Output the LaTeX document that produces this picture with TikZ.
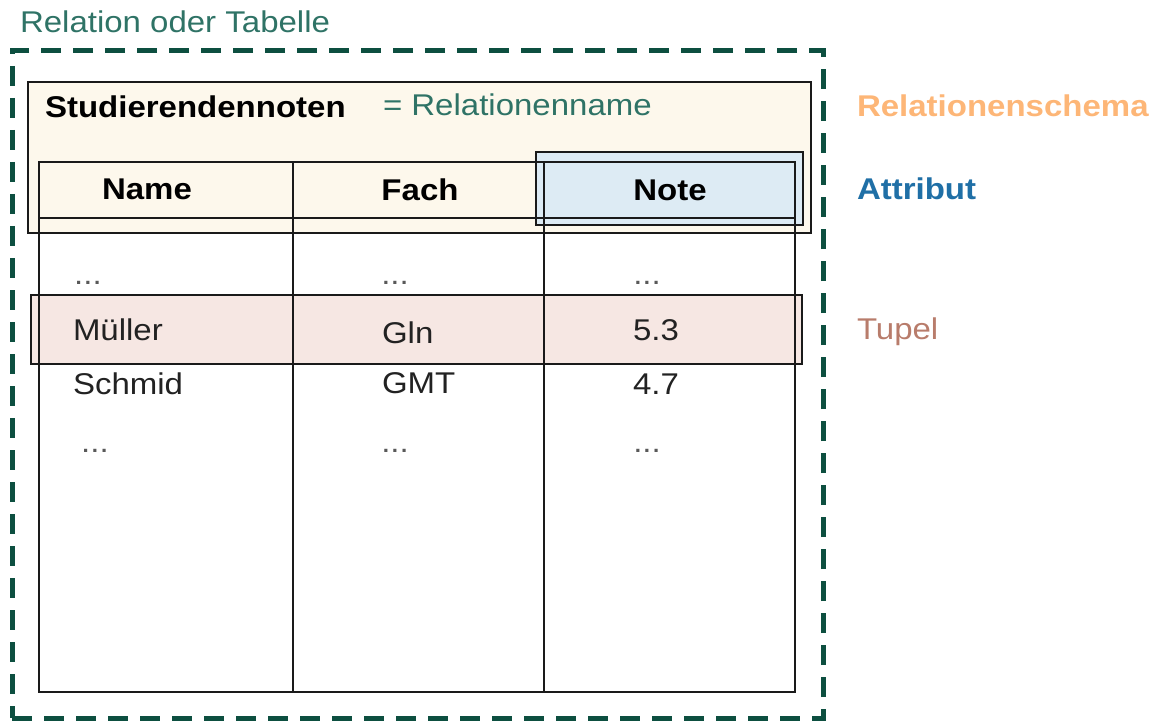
\documentclass[tikz,border=0pt]{standalone}
\usepackage{fontspec}
\setmainfont{Liberation Sans}[FakeStretch=1.1]
\definecolor{dgreen}{HTML}{0D4F40}
\definecolor{tgreen}{HTML}{2F7366}
\definecolor{cream}{HTML}{FDF8EC}
\definecolor{lblue}{HTML}{DDEBF4}
\definecolor{lpink}{HTML}{F6E7E3}
\definecolor{orangetxt}{HTML}{FDB677}
\definecolor{bluetxt}{HTML}{1F6FA6}
\definecolor{browntxt}{HTML}{B87C6B}
\definecolor{linec}{HTML}{1A1A1A}
\definecolor{datac}{HTML}{222222}
\begin{document}
\begin{tikzpicture}[x=1pt,y=-1pt,
  every node/.style={font=\fontsize{30}{36}\selectfont, inner sep=0pt, outer sep=0pt},
  area/.style={rectangle, anchor=north west},
  frame/.style={draw=linec, line width=1.8pt},
  txt/.style={anchor=base west},
  ctxt/.style={anchor=base},
  head/.style={anchor=base, font=\fontsize{30}{36}\selectfont\bfseries, text=black},
  dat/.style={text=datac},
  dots/.style={anchor=base, text=black!65}
]
\useasboundingbox (0,0) rectangle (1159,722);

% outer dashed relation box
\node[area, draw=dgreen, line width=5pt, dash pattern=on 20pt off 12pt,
      minimum width=811pt, minimum height=667pt] (rel) at (12,51) {};
\node[txt, text=tgreen] (reltitle) at (20,33) {Relation oder Tabelle};

% fills
\node[area, fill=cream, minimum width=783pt, minimum height=151pt] (schema) at (28,82) {};
\node[area, fill=lblue, minimum width=267pt, minimum height=73pt] (attr) at (536,152) {};
\node[area, fill=lpink, minimum width=771pt, minimum height=69pt] (tupel) at (31,295) {};

% borders of highlight boxes
\node[area, frame, minimum width=783pt, minimum height=151pt] (schemab) at (28,82) {};
\node[area, frame, minimum width=267pt, minimum height=73pt] (attrb) at (536,152) {};
\node[area, frame, minimum width=771pt, minimum height=69pt] (tupelb) at (31,295) {};

% table
\node[area, frame, minimum width=756pt, minimum height=530pt] (table) at (39,162) {};
\coordinate (h1) at (39,218);
\coordinate (h2) at (795,218);
\coordinate (c1t) at (293,162);
\coordinate (c1b) at (293,692);
\coordinate (c2t) at (544,162);
\coordinate (c2b) at (544,692);
\draw[frame] (h1) -- (h2);
\draw[frame] (c1t) -- (c1b);
\draw[frame] (c2t) -- (c2b);

% schema texts
\node[txt, font=\fontsize{30}{36}\selectfont\bfseries, text=black] (relname) at (45,118) {Studierendennoten};
\node[txt, text=tgreen] (relnamelbl) at (383,116) {= Relationenname};

% header
\node[head] (hname) at (147,200) {Name};
\node[head] (hfach) at (420,201) {Fach};
\node[head] (hnote) at (670,201) {Note};

% rows
\node[dots] (d11) at (88,284) {...};
\node[dots] (d12) at (395,284) {...};
\node[dots] (d13) at (647,284) {...};

\node[txt, dat] (r1a) at (73,340) {Müller};
\node[txt, dat] (r1b) at (382,343) {Gln};
\node[ctxt, dat] (r1c) at (656,340) {5.3};

\node[txt, dat] (r2a) at (73,394) {Schmid};
\node[txt, dat] (r2b) at (382,393) {GMT};
\node[ctxt, dat] (r2c) at (656,394) {4.7};

\node[dots] (d31) at (95,452) {...};
\node[dots] (d32) at (395,452) {...};
\node[dots] (d33) at (647,452) {...};

% legend labels
\node[txt, font=\fontsize{30}{36}\selectfont\bfseries, text=orangetxt] (lschema) at (857,117) {Relationenschema};
\node[txt, font=\fontsize{30}{36}\selectfont\bfseries, text=bluetxt] (lattr) at (857,200) {Attribut};
\node[txt, text=browntxt] (ltupel) at (857,339) {Tupel};
\end{tikzpicture}
\end{document}
